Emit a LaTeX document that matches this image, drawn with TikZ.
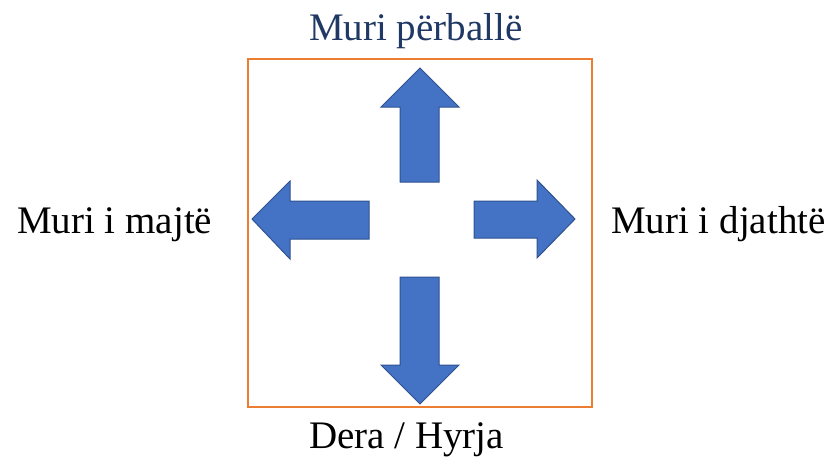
\documentclass[tikz,border=0pt]{standalone}
\usepackage{fontspec}
\setmainfont{Liberation Serif}
\definecolor{arrowfill}{HTML}{4472C4}
\definecolor{arrowline}{HTML}{2F528F}
\definecolor{boxline}{HTML}{ED7D31}
\definecolor{titleblue}{HTML}{1F3864}
\begin{document}
\begin{tikzpicture}[x=1pt,y=-1pt,
  blockarrow/.style={fill=arrowfill,draw=arrowline,line width=1pt,line join=miter},
  label/.style={inner sep=0pt,anchor=base west,font=\fontsize{39}{46}\selectfont}]
\useasboundingbox (0,0) rectangle (834,456);
% room
\draw[boxline,line width=2pt] (248,59) rectangle (592,407);
% up arrow
\draw[blockarrow] (420,68) -- (459,107) -- (439,107) -- (439,182) -- (400,182) -- (400,107) -- (381,107) -- cycle;
% down arrow
\draw[blockarrow] (420,404) -- (459,365) -- (439,365) -- (439,277) -- (400,277) -- (400,365) -- (381,365) -- cycle;
% left arrow
\draw[blockarrow] (252,219) -- (290,181) -- (290,201) -- (369,201) -- (369,239) -- (290,239) -- (290,259) -- cycle;
% right arrow
\draw[blockarrow] (575,219) -- (537,180) -- (537,201) -- (474,201) -- (474,238) -- (537,238) -- (537,258) -- cycle;
% labels
\node[label,text=titleblue] (front) at (309,40) {Muri përballë};
\node[label] (leftw) at (17,233) {Muri i majtë};
\node[label] (rightw) at (611,233) {Muri i djathtë};
\node[label] (door) at (309,448) {Dera / Hyrja};
\end{tikzpicture}
\end{document}
